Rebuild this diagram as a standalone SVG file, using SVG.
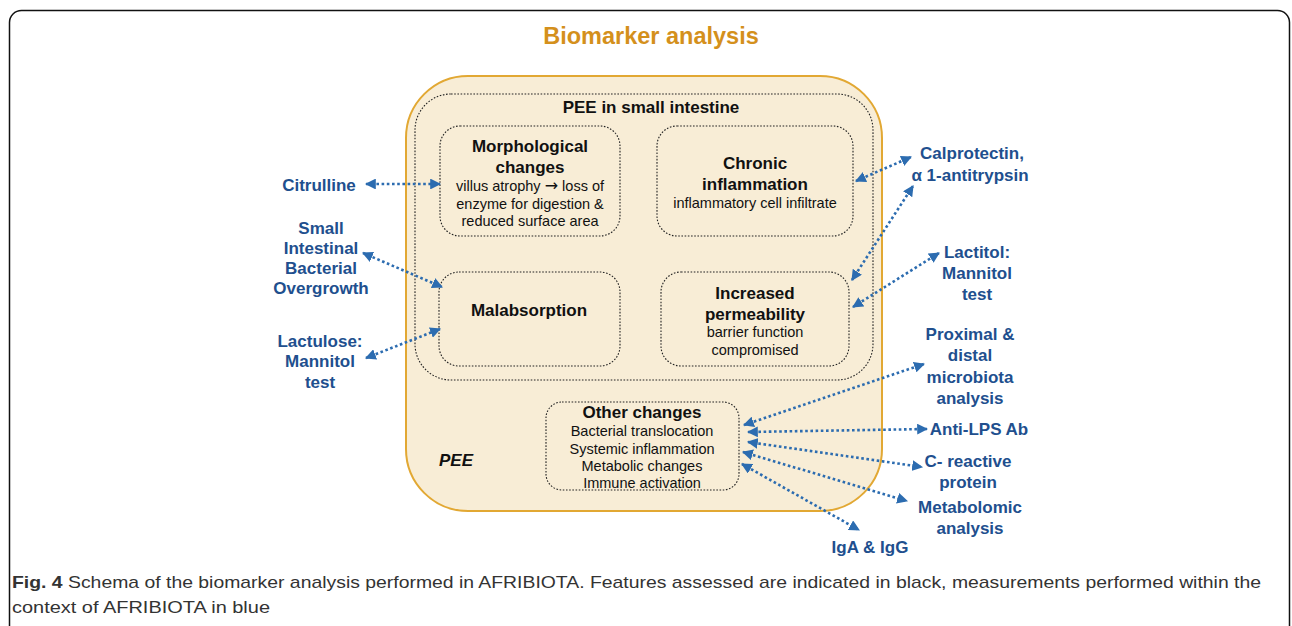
<svg xmlns="http://www.w3.org/2000/svg" width="1292" height="626" viewBox="0 0 1292 626">
<style>
.b{font-family:"Liberation Sans",Arial,sans-serif;font-weight:bold;fill:#111;font-size:17px;text-anchor:middle}
.s{font-family:"Liberation Sans",Arial,sans-serif;fill:#111;font-size:14.5px;text-anchor:middle}
.bl{font-family:"Liberation Sans",Arial,sans-serif;font-weight:bold;fill:#214f8e;font-size:17px;text-anchor:middle}
.dot{fill:none;stroke:#222;stroke-width:1.1;stroke-dasharray:1.6 1.6}
.con{fill:none;stroke:#2c6cb0;stroke-width:2.6;stroke-dasharray:2.6 2.6;marker-start:url(#ah);marker-end:url(#ah)}
.cap{font-family:"Liberation Sans",Arial,sans-serif;fill:#333;font-size:17px}
</style>
<defs>
<marker id="ah" viewBox="0 0 10 10" refX="9" refY="5" markerWidth="4.2" markerHeight="4.2" orient="auto-start-reverse" markerUnits="strokeWidth">
<path d="M0,0 L10,5 L0,10 z" fill="#2c6cb0"/>
</marker>
</defs>
<rect x="9.5" y="10.5" width="1280" height="650" rx="12" fill="#fff" stroke="#111" stroke-width="1.5"/>
<text x="651" y="44" style="font-family:'Liberation Sans',Arial,sans-serif;font-weight:bold;font-size:23.5px;fill:#d4901c;text-anchor:middle">Biomarker analysis</text>

<g id="pee">
<rect x="406" y="76" width="476" height="435" rx="62" fill="#f8edd6" stroke="#e2a833" stroke-width="2"/>
<text x="456" y="466" class="b" font-style="italic">PEE</text>
</g>
<g id="pee-small-intestine">
<rect x="415" y="94" width="458" height="286" rx="36" class="dot"/>
<text x="651" y="113" class="b" font-size="16.5">PEE in small intestine</text>
</g>
<g id="morphological">
<rect x="440" y="126" width="180" height="110" rx="20" class="dot"/>
<text x="530" y="152" class="b">Morphological</text>
<text x="530" y="173" class="b">changes</text>
<text x="530" y="191" class="s">villus atrophy <tspan font-family="DejaVu Sans" font-size="16px">→</tspan> loss of</text>
<text x="530" y="209" class="s">enzyme for digestion &amp;</text>
<text x="530" y="226" class="s">reduced surface area</text>
</g>
<g id="chronic">
<rect x="657" y="126" width="196" height="110" rx="20" class="dot"/>
<text x="755" y="169" class="b">Chronic</text>
<text x="755" y="190" class="b">inflammation</text>
<text x="755" y="208" class="s">inflammatory cell infiltrate</text>
</g>
<g id="malabsorption">
<rect x="439" y="272" width="181" height="94" rx="20" class="dot"/>
<text x="529" y="316" class="b">Malabsorption</text>
</g>
<g id="permeability">
<rect x="661" y="272" width="188" height="94" rx="20" class="dot"/>
<text x="755" y="299" class="b">Increased</text>
<text x="755" y="320" class="b">permeability</text>
<text x="755" y="337" class="s">barrier function</text>
<text x="755" y="355" class="s">compromised</text>
</g>
<g id="other">
<rect x="546" y="402" width="193" height="88" rx="16" class="dot"/>
<text x="642" y="418" class="b">Other changes</text>
<text x="642" y="436" class="s">Bacterial translocation</text>
<text x="642" y="454" class="s">Systemic inflammation</text>
<text x="642" y="471" class="s">Metabolic changes</text>
<text x="642" y="488" class="s">Immune activation</text>
</g>

<g id="citrulline"><text x="319" y="191" class="bl">Citrulline</text></g>
<g id="sibo">
<text x="321" y="234" class="bl">Small</text>
<text x="321" y="254" class="bl">Intestinal</text>
<text x="321" y="274" class="bl">Bacterial</text>
<text x="321" y="294" class="bl">Overgrowth</text>
</g>
<g id="lactulose">
<text x="320" y="347" class="bl">Lactulose:</text>
<text x="320" y="367" class="bl">Mannitol</text>
<text x="320" y="388" class="bl">test</text>
</g>
<g id="calprotectin">
<text x="972" y="159" class="bl">Calprotectin,</text>
<text x="970" y="181" class="bl">α 1-antitrypsin</text>
</g>
<g id="lactitol">
<text x="977" y="258" class="bl">Lactitol:</text>
<text x="977" y="279" class="bl">Mannitol</text>
<text x="977" y="300" class="bl">test</text>
</g>
<g id="microbiota">
<text x="970" y="340" class="bl">Proximal &amp;</text>
<text x="970" y="361" class="bl">distal</text>
<text x="970" y="383" class="bl">microbiota</text>
<text x="970" y="404" class="bl">analysis</text>
</g>
<g id="antilps"><text x="979" y="435" class="bl">Anti-LPS Ab</text></g>
<g id="crp">
<text x="968" y="467" class="bl">C- reactive</text>
<text x="968" y="488" class="bl">protein</text>
</g>
<g id="metabolomic">
<text x="970" y="513" class="bl">Metabolomic</text>
<text x="970" y="534" class="bl">analysis</text>
</g>
<g id="iga"><text x="870" y="553" class="bl">IgA &amp; IgG</text></g>

<g id="connectors">
<line x1="366" y1="184" x2="440" y2="184" class="con"/>
<line x1="363" y1="253" x2="442" y2="287" class="con"/>
<line x1="366" y1="358" x2="440" y2="329" class="con"/>
<line x1="856" y1="181" x2="911" y2="157" class="con"/>
<line x1="852" y1="280" x2="913" y2="186" class="con"/>
<line x1="853" y1="307" x2="939" y2="253" class="con"/>
<line x1="744" y1="425" x2="924" y2="364" class="con"/>
<line x1="748" y1="432" x2="927" y2="429" class="con"/>
<line x1="748" y1="442" x2="922" y2="467" class="con"/>
<line x1="743" y1="452" x2="907" y2="501" class="con"/>
<line x1="742" y1="464" x2="859" y2="530" class="con"/>
</g>

<g id="caption">
<text x="12" y="588" class="cap" textLength="1249" lengthAdjust="spacingAndGlyphs"><tspan font-weight="bold">Fig. 4</tspan> Schema of the biomarker analysis performed in AFRIBIOTA. Features assessed are indicated in black, measurements performed within the</text>
<text x="12" y="613" class="cap" textLength="258" lengthAdjust="spacingAndGlyphs">context of AFRIBIOTA in blue</text>
</g>
</svg>
